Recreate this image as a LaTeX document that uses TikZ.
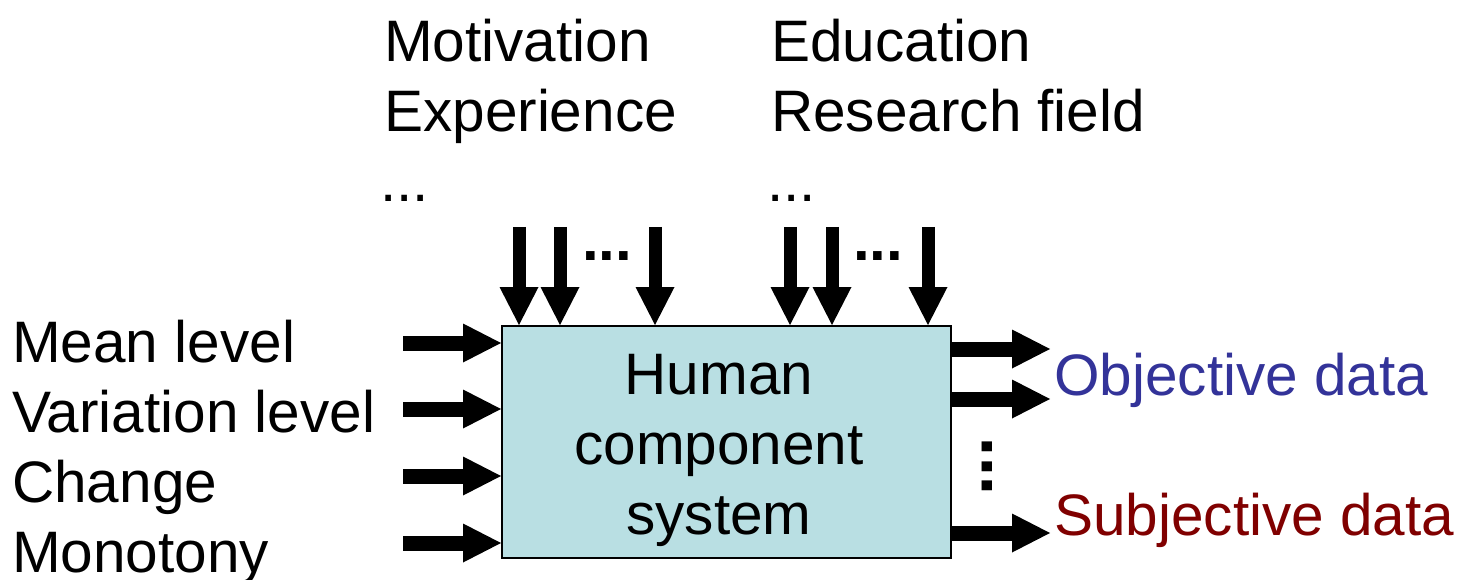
\documentclass[tikz,border=0pt]{standalone}
\usepackage{fontspec}
\setmainfont{Liberation Sans}
\usetikzlibrary{arrows.meta,positioning}
\definecolor{boxfill}{RGB}{185,223,227}
\definecolor{objblue}{RGB}{51,51,153}
\definecolor{subjred}{RGB}{128,0,0}
\tikzset{
  every picture/.style={font=\fontsize{58.5}{70}\selectfont},
  lbl/.style={inner sep=0pt,anchor=base west},
  fat/.style={line width=15pt,-{Triangle[length=38pt,width=39pt,line width=0pt]}},
  slim/.style={line width=13pt,-{Triangle[length=38pt,width=39pt,line width=0pt]}},
  sysbox/.style={draw,line width=2pt,fill=boxfill,minimum width=449pt,minimum height=232pt,inner sep=0pt},
  dotsb/.style={font=\fontsize{60}{60}\selectfont\bfseries,inner sep=0pt},
}
\begin{document}
\begin{tikzpicture}[x=1pt,y=-1pt]
  \useasboundingbox (0,0) rectangle (1475,580);
  \node[sysbox] (sys) at (726.5,442) {};
  \node[align=center,inner sep=0pt] (core) at (719,450) {Human\\component\\system};

  % left inputs
  \foreach \y/\t [count=\i] in {362/Mean level,432/Variation level,502/Change,572/Monotony}
    \node[lbl] (in\i) at (12,\y) {\t};
  \foreach \y [count=\i] in {343,409,476,543}{
    \coordinate (a\i) at (403,\y);
    \draw[fat] (a\i) -- (a\i -| sys.west);
  }

  % factors on top
  \node[lbl] (mot) at (384,62) {Motivation};
  \node[lbl] (exp) at (384,132) {Experience};
  \node[lbl] (etc1) at (380,202) {...};
  \node[lbl] (edu) at (771,62) {Education};
  \node[lbl] (res) at (771,132) {Research field};
  \node[lbl] (etc2) at (767,202) {...};
  \foreach \x [count=\i] in {519,560,655,790,832,928}{
    \coordinate (t\i) at (\x,227);
    \draw[slim] (t\i) -- (t\i |- sys.north);
  }
  \node[dotsb] (gap1) at (607,256) {...};
  \node[dotsb] (gap2) at (878,256) {...};

  % outputs
  \foreach \y [count=\i] in {349,399,533}{
    \coordinate (o\i) at (1050,\y);
    \draw[fat] (o\i -| sys.east) -- (o\i);
  }
  \node[dotsb,font=\fontsize{70}{70}\selectfont\bfseries,rotate=90] (gap3) at (987.5,466.5) {...};
  \node[lbl,objblue] (obj) at (1054,395) {Objective data};
  \node[lbl,subjred] (subj) at (1054,535) {Subjective data};
\end{tikzpicture}
\end{document}
